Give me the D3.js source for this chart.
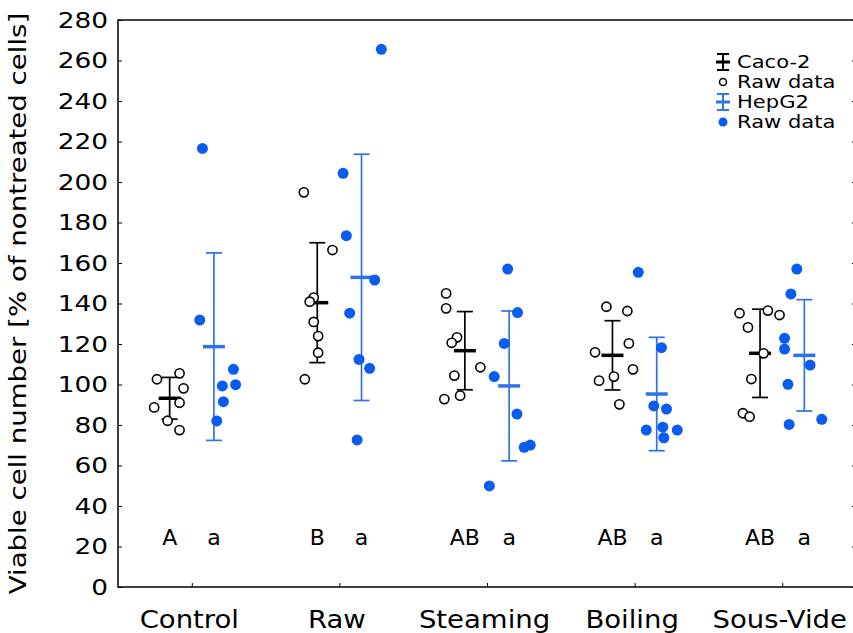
<!DOCTYPE html>
<html>
<head>
    <script src="https://cdn.jsdelivr.net/npm/d3@7"></script>
    <title>Viable cell number</title>
    <style>
        body { margin: 0; background: #fff; }
        text { font-family: "DejaVu Sans", Verdana, sans-serif; fill: #000; }
    </style>
</head>
<body>
<script>
    // categories and summary values
    var categories = ["Control", "Raw", "Steaming", "Boiling", "Sous-Vide"];
    var cacoLetters = ["A", "B", "AB", "AB", "AB"];
    var hepLetters = ["a", "a", "a", "a", "a"];

    var cacoMean = [93.2, 140.4, 116.7, 114.4, 115.4];
    var cacoSD = [10.3, 29.6, 19.3, 17.1, 21.8];
    var hepMean = [118.7, 152.9, 99.3, 95.3, 114.4];
    var hepSD = [46.3, 60.8, 37.0, 28.0, 27.5];

    // raw data (values), one list per group
    var cacoRaw = [
        [102.6, 105.5, 98.1, 88.7, 91.0, 82.1, 77.5],
        [194.9, 166.4, 142.9, 140.9, 130.9, 123.9, 115.7, 102.6],
        [145.0, 137.6, 123.3, 120.6, 108.5, 104.4, 94.5, 92.8],
        [138.4, 136.3, 120.3, 115.9, 107.5, 103.9, 101.9, 90.2],
        [135.2, 136.5, 134.3, 128.2, 115.4, 102.7, 85.8, 84.1]
    ];
    var hepRaw = [
        [216.6, 131.8, 107.5, 99.3, 99.9, 91.5, 82.0],
        [265.5, 204.3, 173.5, 151.6, 135.2, 112.4, 108.0, 72.6],
        [157.0, 135.5, 120.3, 103.9, 85.4, 69.0, 70.1, 49.9],
        [155.4, 118.2, 89.4, 87.9, 77.5, 78.9, 77.5, 73.7],
        [157.0, 144.7, 122.8, 117.5, 109.6, 100.1, 82.8, 80.3]
    ];
    // horizontal jitter of raw points, in category units
    var cacoJitter = [
        [-0.236, -0.083, -0.056, -0.255, -0.083, -0.164, -0.083],
        [-0.241, -0.047, -0.174, -0.201, -0.174, -0.144, -0.144, -0.234],
        [-0.277, -0.277, -0.203, -0.239, -0.045, -0.221, -0.182, -0.289],
        [-0.191, -0.049, -0.039, -0.268, -0.011, -0.140, -0.241, -0.103],
        [-0.289, -0.097, -0.018, -0.232, -0.126, -0.209, -0.266, -0.221]
    ];
    var hepJitter = [
        [0.072, 0.054, 0.282, 0.207, 0.297, 0.214, 0.169],
        [0.284, 0.025, 0.047, 0.239, 0.070, 0.133, 0.205, 0.120],
        [0.140, 0.207, 0.117, 0.049, 0.203, 0.252, 0.293, 0.016],
        [0.025, 0.182, 0.130, 0.216, 0.079, 0.191, 0.289, 0.198],
        [0.099, 0.059, 0.016, 0.016, 0.189, 0.039, 0.268, 0.047]
    ];
    var yTicks = [0, 20, 40, 60, 80, 100, 120, 140, 160, 180, 200, 220, 240, 260, 280];

    var width = 853, height = 633;
    var pLeft = 118, pRight = 856, pTop = 20, pBottom = 587;
    var blue = "#0a5cf0";
    var blueLine = "#2f74e6";
    var offset = 0.15;
    var stretch = 1.2;   // the original lettering is a little wider than DejaVu

    var svg = d3.select("body").append("svg")
        .attr("width", width).attr("height", height);

    var x = d3.scaleLinear().domain([0.5, 5.5]).range([pLeft, pRight]);
    var y = d3.scaleLinear().domain([0, 280]).range([pBottom, pTop]);

    // frame
    svg.append("rect")
        .attr("x", pLeft).attr("y", pTop)
        .attr("width", pRight - pLeft).attr("height", pBottom - pTop)
        .attr("fill", "none").attr("stroke", "#000").attr("stroke-width", 1.5);

    // y axis
    var yAxis = d3.axisLeft(y).tickValues(yTicks).tickSizeInner(-4).tickSizeOuter(0).tickPadding(10);
    var gy = svg.append("g").attr("transform", "translate(" + pLeft + ",0)").call(yAxis);
    gy.select(".domain").remove();
    gy.selectAll("text")
        .attr("font-size", 22).style("font-family", "DejaVu Sans")
        .attr("x", -10 / stretch)
        .attr("transform", "scale(" + stretch + ",1)");

    var yAxisR = d3.axisRight(y).tickValues(yTicks).tickSizeInner(-4).tickSizeOuter(0).tickFormat("");
    var gyr = svg.append("g").attr("transform", "translate(" + pRight + ",0)").call(yAxisR);
    gyr.select(".domain").remove();

    // x axis
    var xAxis = d3.axisBottom(x).tickValues([1, 2, 3, 4, 5])
        .tickFormat(function(d){ return categories[d - 1]; })
        .tickSizeInner(-4).tickSizeOuter(0).tickPadding(23);
    var gx = svg.append("g").attr("transform", "translate(0," + pBottom + ")").call(xAxis);
    gx.select(".domain").remove();
    gx.selectAll("text")
        .attr("font-size", 25).style("font-family", "DejaVu Sans")
        .attr("x", -3 / 1.1)
        .attr("transform", "scale(1.1,1)");

    // y label
    svg.append("text")
        .attr("transform", "translate(26," + ((pTop + pBottom) / 2) + ") rotate(-90) scale(1.2,1)")
        .attr("text-anchor", "middle")
        .attr("font-size", 23)
        .text("Viable cell number [% of nontreated cells]");

    // error bars
    function drawBars(means, sds, dx, color) {
        var g = svg.append("g");
        means.forEach(function(m, i){
            var cx = x(i + 1 + dx);
            g.append("line").attr("x1", cx).attr("x2", cx)
                .attr("y1", y(m - sds[i])).attr("y2", y(m + sds[i]))
                .attr("stroke", color).attr("stroke-width", 1.7);
            [m - sds[i], m + sds[i]].forEach(function(v){
                g.append("line").attr("x1", cx - 8).attr("x2", cx + 8)
                    .attr("y1", y(v)).attr("y2", y(v))
                    .attr("stroke", color).attr("stroke-width", 1.7);
            });
            g.append("line").attr("x1", cx - 11).attr("x2", cx + 11)
                .attr("y1", y(m)).attr("y2", y(m))
                .attr("stroke", color).attr("stroke-width", 3.5);
        });
    }
    drawBars(cacoMean, cacoSD, -offset, "#000");
    drawBars(hepMean, hepSD, offset, blueLine);

    // raw points
    cacoRaw.forEach(function(vals, i){
        svg.append("g").selectAll("circle").data(vals).enter().append("circle")
            .attr("cx", function(d, j){ return x(i + 1 + cacoJitter[i][j]); })
            .attr("cy", function(d){ return y(d); })
            .attr("r", 4.6)
            .attr("fill", "#fff").attr("stroke", "#000").attr("stroke-width", 1.6);
    });
    hepRaw.forEach(function(vals, i){
        svg.append("g").selectAll("circle").data(vals).enter().append("circle")
            .attr("cx", function(d, j){ return x(i + 1 + hepJitter[i][j]); })
            .attr("cy", function(d){ return y(d); })
            .attr("r", 5.5)
            .attr("fill", blue);
    });

    // significance letters
    categories.forEach(function(c, i){
        svg.append("text").attr("x", x(i + 1 - offset)).attr("y", y(20.5))
            .attr("text-anchor", "middle").attr("font-size", 22).text(cacoLetters[i]);
        svg.append("text").attr("x", x(i + 1 + offset)).attr("y", y(20.5))
            .attr("text-anchor", "middle").attr("font-size", 22).text(hepLetters[i]);
    });

    // legend
    var legend = svg.append("g").attr("transform", "translate(723,62)");
    var items = [
        {label: "Caco-2", type: "bar", color: "#000"},
        {label: "Raw data", type: "open"},
        {label: "HepG2", type: "bar", color: blueLine},
        {label: "Raw data", type: "filled"}
    ];
    items.forEach(function(it, i){
        var g = legend.append("g").attr("transform", "translate(0," + i * 20 + ")");
        if (it.type === "bar") {
            g.append("line").attr("x1", 0).attr("x2", 0).attr("y1", -8).attr("y2", 8)
                .attr("stroke", it.color).attr("stroke-width", 2);
            g.append("line").attr("x1", -6).attr("x2", 6).attr("y1", -8).attr("y2", -8)
                .attr("stroke", it.color).attr("stroke-width", 2);
            g.append("line").attr("x1", -6).attr("x2", 6).attr("y1", 8).attr("y2", 8)
                .attr("stroke", it.color).attr("stroke-width", 2);
            g.append("line").attr("x1", -7).attr("x2", 7).attr("y1", 0).attr("y2", 0)
                .attr("stroke", it.color).attr("stroke-width", 3);
        } else if (it.type === "open") {
            g.append("circle").attr("r", 3.5).attr("fill", "#fff")
                .attr("stroke", "#000").attr("stroke-width", 1.5);
        } else {
            g.append("circle").attr("r", 4.5).attr("fill", blue);
        }
        g.append("text").attr("x", 14 / 1.17).attr("y", 6).attr("font-size", 18)
            .attr("transform", "scale(1.17,1)").text(it.label);
    });
</script>
</body>
</html>
